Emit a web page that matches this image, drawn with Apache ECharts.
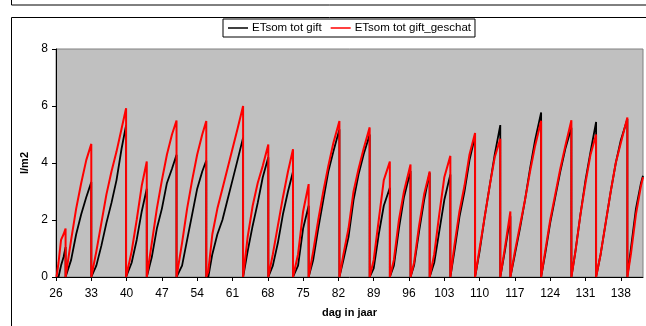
<!DOCTYPE html>
<html>
<head>
<meta charset="utf-8">
<script src="https://cdn.jsdelivr.net/npm/echarts@6/dist/echarts.min.js"></script>
<style>
html,body{margin:0;padding:0;background:#fff;}
#chart{width:646px;height:326px;}
</style>
</head>
<body>
<div id="chart"></div>
<script>
// day of year (duplicated day = reset after irrigation)
var days = [
  26.1, 26.5, 27.0, 27.5, 27.9,
  27.9, 29, 30, 31, 32, 33.0,
  33.0, 34, 35, 36, 37, 38, 39, 39.9,
  39.9, 41, 42, 43, 44.0,
  44.0, 45, 46, 47, 48, 49, 49.9,
  49.9, 51, 52, 53, 54, 55, 55.8,
  55.8, 56.2, 57, 58, 59, 60, 61, 62, 63.1,
  63.1, 64, 65, 66, 67, 68.1,
  68.1, 69, 70, 71, 72, 73.0,
  73.0, 74, 75, 76.1,
  76.1, 77, 78, 79, 80, 81, 82.2,
  82.2, 83, 84, 85, 86, 87, 88.2,
  88.2, 89, 90, 91, 92.2,
  92.2, 93, 94, 95, 96.3,
  96.3, 97, 98, 99, 100.1,
  100.1, 101, 102, 103, 104.2,
  104.2, 105, 106, 107, 108, 109.1,
  109.1, 110, 111, 112, 113, 114.1,
  114.1, 115, 116.1,
  116.1, 117, 118, 119, 120, 121, 122.2,
  122.2, 123, 124, 125, 126, 127, 128.2,
  128.2, 129, 130, 131, 132, 133.1,
  133.1, 134, 135, 136, 137, 138, 139.3,
  139.3, 140, 141, 142, 142.4
];
// ETsom tot gift (measured)
var etGift = [
  0, 0, 0.4, 0.7, 1.05,
  0, 0.6, 1.5, 2.2, 2.8, 3.33,
  0, 0.4, 1.1, 1.9, 2.6, 3.4, 4.5, 5.33,
  0, 0.5, 1.3, 2.3, 3.1,
  0, 0.7, 1.7, 2.4, 3.3, 3.8, 4.29,
  0, 0.4, 1.3, 2.2, 3.1, 3.7, 4.09,
  0, 0, 0.8, 1.5, 2.0, 2.7, 3.4, 4.1, 4.89,
  0, 0.9, 1.8, 2.6, 3.5, 4.2,
  0, 0.4, 1.2, 2.2, 3.0, 3.7,
  0, 0.4, 1.7, 2.5,
  0, 0.6, 1.7, 2.7, 3.7, 4.4, 5.18,
  0, 0.6, 1.4, 2.7, 3.6, 4.3, 5.0,
  0, 0.3, 1.5, 2.5, 3.13,
  0, 0.4, 1.7, 2.8, 3.72,
  0, 0.4, 1.6, 2.7, 3.66,
  0, 0.5, 1.6, 2.7, 3.6,
  0, 0.9, 2.1, 3.0, 4.1, 4.95,
  0, 0.9, 2.1, 3.2, 4.3, 5.33,
  0, 0.9, 2.13,
  0, 0.8, 1.7, 2.7, 3.8, 4.8, 5.77,
  0, 0.8, 1.9, 2.8, 3.7, 4.5, 5.24,
  0, 0.9, 2.2, 3.4, 4.4, 5.44,
  0, 0.8, 1.9, 3.0, 4.0, 4.8, 5.54,
  0, 1.0, 2.4, 3.3, 3.55
];
// ETsom tot gift_geschat (estimated)
var etGeschat = [
  0, 0.5, 1.3, 1.5, 1.7,
  0, 1.3, 2.4, 3.3, 4.1, 4.67,
  0, 0.9, 1.9, 2.9, 3.7, 4.4, 5.2, 5.92,
  0, 0.9, 2.0, 3.2, 4.05,
  0, 1.2, 2.4, 3.4, 4.3, 5.0, 5.49,
  0, 1.2, 2.4, 3.4, 4.3, 5.0, 5.47,
  0, 0.2, 1.5, 2.4, 3.1, 3.8, 4.5, 5.2, 6.0,
  0, 1.4, 2.5, 3.3, 3.9, 4.65,
  0, 0.8, 1.8, 2.8, 3.7, 4.48,
  0, 0.8, 2.3, 3.26,
  0, 0.9, 2.0, 3.0, 3.9, 4.7, 5.47,
  0, 0.8, 1.7, 3.0, 3.8, 4.5, 5.25,
  0, 0.6, 2.0, 3.4, 4.05,
  0, 0.6, 2.0, 3.0, 3.95,
  0, 0.5, 1.8, 2.9, 3.7,
  0, 0.8, 2.2, 3.5, 4.25,
  0, 1.1, 2.3, 3.2, 4.3, 5.05,
  0, 1.0, 2.1, 3.2, 4.2, 4.85,
  0, 1.0, 2.3,
  0, 0.9, 1.8, 2.7, 3.7, 4.6, 5.48,
  0, 0.9, 2.0, 2.9, 3.8, 4.6, 5.5,
  0, 0.9, 2.2, 3.3, 4.3, 5.0,
  0, 0.8, 1.9, 3.0, 4.0, 4.7, 5.6,
  0, 0.8, 2.2, 3.2, 3.5
];
var xTicks = [26, 33, 40, 47, 54, 61, 68, 75, 82, 89, 96, 103, 110, 117, 124, 131, 138];
var seriesNames = ['ETsom tot gift', 'ETsom tot gift_geschat'];

var font = 'Liberation Sans, Arial, sans-serif';
var chart = echarts.init(document.getElementById('chart'), null, {renderer: 'canvas'});
function pairs(vals) { return days.map(function (d, i) { return [d, vals[i]]; }); }

chart.setOption({
  animation: false,
  backgroundColor: '#fff',
  textStyle: {fontFamily: font},
  graphic: [
    {type: 'rect', shape: {x: 11.5, y: -20, width: 660, height: 25}, style: {fill: 'none', stroke: '#000', lineWidth: 1}, z: 100},
    {type: 'rect', shape: {x: 11.5, y: 17.5, width: 660, height: 340}, style: {fill: 'none', stroke: '#000', lineWidth: 1}, z: 100}
  ],
  legend: {
    data: seriesNames,
    left: 223, top: 19,
    backgroundColor: '#fff',
    borderColor: '#000', borderWidth: 1,
    padding: [3, 4, 3, 5],
    itemGap: 9,
    itemWidth: 20, itemHeight: 1.5,
    icon: 'rect',
    textStyle: {fontFamily: font, fontSize: 11.5, color: '#000', padding: [0, 0, 0, -1]}
  },
  grid: {
    left: 56, top: 49, width: 587, height: 228,
    show: true, backgroundColor: '#c0c0c0', borderColor: '#808080', borderWidth: 1
  },
  xAxis: {
    type: 'value', min: 26, max: 142.4,
    name: 'dag in jaar', nameLocation: 'middle', nameGap: 30,
    nameTextStyle: {fontFamily: font, fontSize: 11, fontWeight: 'bold', color: '#000'},
    axisLine: {show: true, lineStyle: {color: '#000', width: 1}},
    axisTick: {show: true, length: 4, lineStyle: {color: '#000'}, customValues: xTicks},
    axisLabel: {fontFamily: font, fontSize: 12, color: '#000', margin: 11, customValues: xTicks},
    splitLine: {show: false}
  },
  yAxis: {
    type: 'value', min: 0, max: 8, interval: 2,
    name: 'l/m2', nameLocation: 'middle', nameGap: 25, nameRotate: 90,
    nameTextStyle: {fontFamily: font, fontSize: 11, fontWeight: 'bold', color: '#000'},
    axisLine: {show: true, lineStyle: {color: '#000', width: 1}},
    axisTick: {show: true, length: 4, lineStyle: {color: '#000'}},
    axisLabel: {fontFamily: font, fontSize: 12, color: '#000', margin: 8},
    splitLine: {show: false}
  },
  series: [
    {name: seriesNames[0], type: 'line', data: pairs(etGift), showSymbol: false, symbol: 'none',
     color: '#000', lineStyle: {color: '#000', width: 1.8}, z: 2},
    {name: seriesNames[1], type: 'line', data: pairs(etGeschat), showSymbol: false, symbol: 'none',
     color: '#ff0000', lineStyle: {color: '#ff0000', width: 2}, z: 3}
  ]
});
</script>
</body>
</html>
